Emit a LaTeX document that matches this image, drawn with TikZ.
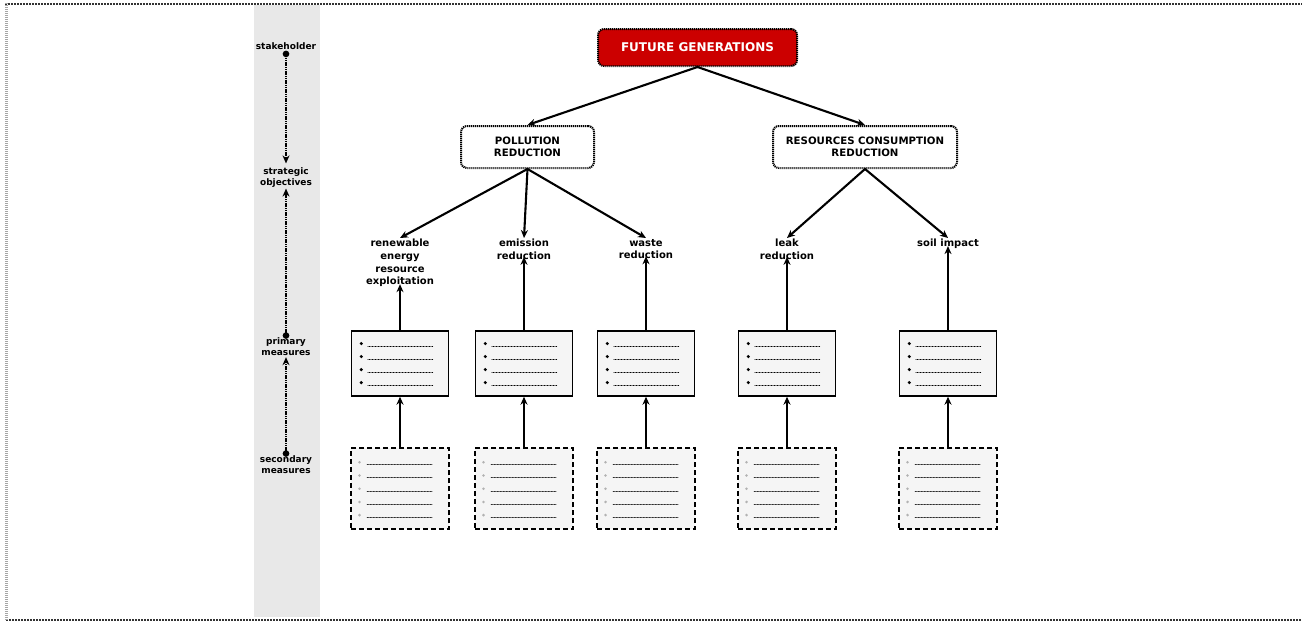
\documentclass[tikz,border=0pt]{standalone}
\usepackage{fontspec}
\setmainfont{DejaVu Sans}
\usetikzlibrary{arrows.meta}

\definecolor{fgred}{HTML}{CC0000}
\definecolor{boxgray}{HTML}{F5F5F5}
\definecolor{bandgray}{HTML}{E8E8E8}

\begin{document}
\begin{tikzpicture}[x=1pt, y=-1pt,
                    >={Stealth[length=8pt,width=7pt]}, line cap=round,
                    axlbl/.style={font=\fontsize{9}{11}\selectfont\bfseries, align=center, inner sep=1pt},
                    objlbl/.style={font=\fontsize{10}{12.7}\selectfont\bfseries, align=center, inner sep=1pt},
                    goal/.style={draw, line cap=butt, dash pattern=on 1.2pt off 0.8pt, line width=2pt,
                                 rounded corners=6pt, align=center,
                                 font=\fontsize{10.2}{12}\selectfont\bfseries},
                    prim/.style={draw, fill=boxgray, line width=1.4pt, minimum width=97pt, minimum height=65pt},
                    sec/.style={draw, fill=boxgray, line cap=butt, dash pattern=on 5pt off 3pt,
                                line width=2pt, minimum width=98pt, minimum height=81pt},
                    link/.style={->, line width=2.1pt},
                    axis/.style={{Circle[length=6.5pt]}->, line width=2pt, line cap=butt,
                                 dash pattern=on 1.2pt off 0.6pt}
                   ]

    \useasboundingbox (0,0) rectangle (1302,621);

    \fill [bandgray] (254,5) rectangle (320,617);
    \draw [gray!40!black, line width=2pt, line cap=butt, dash pattern=on 2pt off 1pt] (5,3.5) -- (1302,3.5);
    \draw [gray!40!black, line width=2pt, line cap=butt, dash pattern=on 2pt off 1pt] (6,619.5) -- (1302,619.5);
    \draw [gray!70, line width=3pt, line cap=butt, dash pattern=on 1pt off 1pt] (6,3) -- (6,620);

    \node [axlbl] (stake) at (286,46) {stakeholder};
    \node [axlbl] (strat) at (286,177.5) {strategic\\objectives};
    \node [axlbl] (primlbl) at (286,347) {primary\\measures};
    \node [axlbl] (seclbl) at (286,465) {secondary\\measures};
    \draw [axis] (stake.south) -- ([yshift=3pt]strat.north);
    \draw [axis] ([yshift=-2pt]primlbl.north) -- (strat.south);
    \draw [axis] ([yshift=-2pt]seclbl.north) -- (primlbl.south);

    \node [goal, fill=fgred, text=white, minimum width=199pt, minimum height=37pt,
           font=\fontsize{12}{14}\selectfont\bfseries] (future) at (697.5,47.5) {FUTURE GENERATIONS};
    \node [goal, fill=white, minimum width=133pt, minimum height=42pt] (pollution) at (527.5,147) {POLLUTION\\REDUCTION};
    \node [goal, fill=white, minimum width=184pt, minimum height=42pt] (resources) at (865,147) {RESOURCES CONSUMPTION\\REDUCTION};

    \draw [link] (future.south) -- (pollution.north);
    \draw [link] (future.south) -- (resources.north);

    \node [objlbl, anchor=north] (renew) at (400,238) {renewable\\energy\\resource\\exploitation};
    \node [objlbl, anchor=north] (emission) at (524,238) {emission\\reduction};
    \node [objlbl, anchor=north] (waste) at (646,238) {waste\\reduction};
    \node [objlbl, anchor=north] (leak) at (787,238) {leak\\reduction};
    \node [objlbl, anchor=north] (soil) at (948,238) {soil impact};

    \draw [link] (pollution.south) -- (renew.north);
    \draw [link] (pollution.south) -- (emission.north);
    \draw [link] (pollution.south) -- (waste.north);
    \draw [link] (resources.south) -- (leak.north);
    \draw [link] (resources.south) -- (soil.north);

    \foreach \n/\x/\t in {1/400/renew, 2/524/emission, 3/646/waste, 4/787/leak, 5/948/soil}{
        \node [prim] (p\n) at (\x,363.5) {};
        \node [sec] (s\n) at (\x,488.5) {};
        \draw [link] (s\n.north) -- (p\n.south);
        \draw [link] (p\n.north) -- ([yshift=4pt]\t.south);

        \foreach \k in {0,...,3}{
            \fill (p\n.north west) ++(10.5,13.3+13*\k) circle[radius=1.7pt];
            \draw [line width=0.5pt, densely dotted] (p\n.north west) ++(17,16+13*\k) -- ++(66,0);
        }
        \foreach \k in {0,...,4}{
            \fill [gray!60] (s\n.north west) ++(9.5,15.3+13.2*\k) circle[radius=1.4pt];
            \draw [line width=0.5pt, densely dotted] (s\n.north west) ++(17,17.5+13.2*\k) -- ++(66,0);
        }
    }

  \end{tikzpicture}
\end{document}
